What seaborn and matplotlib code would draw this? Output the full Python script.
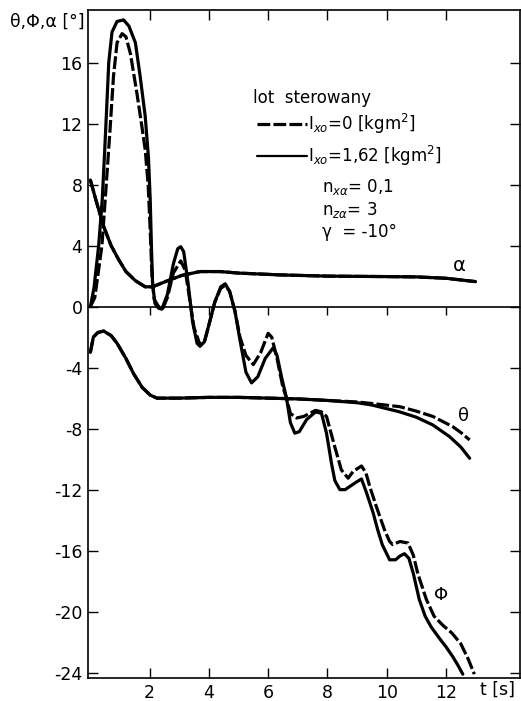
import matplotlib
matplotlib.use("Agg")
import matplotlib.pyplot as plt
import seaborn as sns
import numpy as np

# ---- data ----
# Phi, I_xo = 1.62 (solid)
t_phi_s = [0, 0.12, 0.28, 0.4, 0.48, 0.55, 0.62, 0.73, 0.9, 1.12, 1.3, 1.52, 1.68, 1.85, 1.96,
           2.02, 2.06, 2.1, 2.18, 2.3, 2.41, 2.6, 2.8, 2.95, 3.05, 3.15, 3.3, 3.45, 3.6, 3.7,
           3.85, 4.0, 4.2, 4.4, 4.55, 4.7, 4.88, 5.05, 5.25, 5.44, 5.65, 5.9, 6.17, 6.3, 6.45,
           6.62, 6.75, 6.9, 7.05, 7.3, 7.6, 7.8, 7.97, 8.14, 8.25, 8.42, 8.6, 8.75, 8.98, 9.15,
           9.32, 9.54, 9.7, 9.85, 10.1, 10.3, 10.45, 10.6, 10.75, 10.9, 11.1, 11.3, 11.5, 11.8,
           12.0, 12.23, 12.4, 12.57]
phi_s = [0, 1.2, 4.0, 7.0, 10.1, 13.0, 16.0, 18.0, 18.7, 18.8, 18.4, 17.3, 15.1, 12.5, 9.8,
         7.0, 4.0, 1.5, 0.2, -0.1, -0.17, 0.8, 2.8, 3.8, 3.93, 3.6, 1.5, -1.0, -2.4, -2.6,
         -2.3, -1.2, 0.3, 1.3, 1.5, 1.0, -0.3, -2.2, -4.3, -5.0, -4.6, -3.4, -2.7, -3.2, -4.6,
         -6.0, -7.6, -8.3, -8.2, -7.4, -6.9, -7.0, -8.3, -10.3, -11.4, -12.0, -12.0, -11.8, -11.5, -11.3,
         -12.2, -13.5, -14.65, -15.6, -16.6, -16.6, -16.35, -16.2, -16.5, -17.5, -19.2, -20.3, -21.0, -21.8,
         -22.3, -22.95, -23.5, -24.1]

# Phi, I_xo = 0 (dashed)
t_phi_d = [0, 0.15, 0.39, 0.5, 0.6, 0.67, 0.78, 0.9, 1.07, 1.2, 1.35, 1.57, 1.74, 1.85, 1.95,
           2.02, 2.08, 2.15, 2.3, 2.45, 2.6, 2.8, 3.05, 3.2, 3.35, 3.5, 3.7, 3.85, 4.0, 4.2,
           4.4, 4.55, 4.7, 4.88, 5.05, 5.25, 5.5, 5.75, 6.0, 6.12, 6.3, 6.5, 6.62, 6.75, 6.96,
           7.2, 7.6, 7.8, 7.97, 8.25, 8.47, 8.7, 8.87, 9.15, 9.3, 9.43, 9.65, 9.93, 10.1, 10.2,
           10.45, 10.72, 10.9, 11.05, 11.34, 11.6, 11.9, 12.2, 12.5, 12.75, 12.96]
phi_d = [0, 0.6, 4.0, 7.0, 9.8, 11.8, 15.1, 17.3, 17.9, 17.7, 16.6, 14.0, 11.8, 10.3, 8.0,
         5.0, 2.0, 0.5, 0.0, -0.1, 0.6, 2.2, 3.0, 2.4, 0.5, -1.4, -2.5, -2.3, -1.2, 0.3,
         1.2, 1.4, 1.0, -0.3, -2.0, -3.2, -3.8, -3.0, -1.75, -2.0, -3.4, -5.3, -6.0, -7.0, -7.3,
         -7.2, -6.8, -6.9, -7.2, -9.2, -10.7, -11.25, -10.8, -10.45, -10.9, -11.8, -13.1, -14.65, -15.4, -15.6,
         -15.4, -15.5, -16.3, -17.5, -19.2, -20.3, -20.9, -21.4, -22.1, -23.1, -24.1]

# Theta
t_th_s = [0, 0.1, 0.25, 0.45, 0.7, 0.9, 1.2, 1.46, 1.75, 2.02, 2.25, 3, 4, 5, 6, 7, 8, 9,
          9.5, 10.44, 11.0, 11.56, 12.12, 12.5, 12.8]
th_s = [-3.0, -2.0, -1.7, -1.6, -1.9, -2.4, -3.4, -4.4, -5.3, -5.8, -6.0, -6.0, -5.95, -5.95,
        -6.0, -6.05, -6.15, -6.3, -6.45, -6.9, -7.25, -7.76, -8.52, -9.2, -9.94]
t_th_d = [0, 0.1, 0.25, 0.45, 0.7, 0.9, 1.2, 1.46, 1.75, 2.02, 2.25, 3, 4, 5, 6, 7, 8, 9,
          9.5, 10.44, 11.0, 11.56, 12.23, 12.5, 12.8]
th_d = [-3.0, -2.0, -1.7, -1.6, -1.9, -2.4, -3.4, -4.4, -5.3, -5.8, -6.0, -6.0, -5.95, -5.95,
        -6.0, -6.05, -6.15, -6.25, -6.35, -6.56, -6.85, -7.2, -7.87, -8.25, -8.74]

# Alpha
t_al = [0, 0.2, 0.45, 0.7, 0.95, 1.2, 1.52, 1.85, 2.1, 2.53, 3.09, 3.7, 4.38, 5, 6.4, 7, 8,
        10, 11, 12, 12.5, 13]
al_s = [8.3, 6.9, 5.25, 4.0, 3.1, 2.3, 1.7, 1.3, 1.3, 1.64, 2.05, 2.3, 2.3, 2.2, 2.08, 2.05,
        2.0, 1.97, 1.95, 1.86, 1.75, 1.64]
al_d = [8.3, 6.9, 5.25, 4.0, 3.1, 2.3, 1.7, 1.3, 1.3, 1.64, 2.05, 2.3, 2.3, 2.2, 2.08, 2.05,
        2.0, 1.97, 1.95, 1.86, 1.75, 1.64]

yticks = [16, 12, 8, 4, 0, -4, -8, -12, -16, -20, -24]
xticks = [2, 4, 6, 8, 10, 12]

# ---- plot ----
sns.set_theme(style="ticks")
plt.rcParams['font.family'] = ['DejaVu Sans']
plt.rcParams['mathtext.fontset'] = 'dejavusans'
plt.rcParams['text.color'] = 'black'
plt.rcParams['axes.labelcolor'] = 'black'
plt.rcParams['xtick.color'] = 'black'
plt.rcParams['ytick.color'] = 'black'
plt.rcParams['axes.edgecolor'] = 'black'

fig = plt.figure(figsize=(5.21, 7.01), dpi=100)
ax = fig.add_axes([88/521, 1-678/701, 432/521, 668/701])

LW = 2.3
DASH = (0, (4.0, 1.0))
for t, y in [(t_phi_s, phi_s), (t_th_s, th_s), (t_al, al_s)]:
    sns.lineplot(x=t, y=y, ax=ax, color='black', linewidth=LW, sort=False, estimator=None)
for t, y in [(t_phi_d, phi_d), (t_th_d, th_d), (t_al, al_d)]:
    sns.lineplot(x=t, y=y, ax=ax, color='black', linewidth=LW, sort=False, estimator=None,
                 linestyle=DASH)

ax.axhline(0, color='black', lw=1.2)
ax.plot(xticks, [0]*len(xticks), linestyle='none', marker=3, markersize=6, color='black', mew=1.0)

ax.set_xlim(-0.08, 14.5)
ax.set_ylim(-24.35, 19.45)
ax.set_xticks(xticks)
ax.set_xticklabels([str(v) for v in xticks])
ax.set_yticks(yticks)
ax.set_yticklabels([str(v) for v in yticks])
ax.tick_params(direction='in', length=7, width=1.0, top=True, right=True,
               labelsize=12.5, colors='black')
ax.tick_params(axis='y', pad=4)
ax.tick_params(axis='x', pad=4)
for s in ax.spines.values():
    s.set_color('black')
    s.set_linewidth(1.2)
ax.set_xlabel('')
ax.set_ylabel('')

# curve labels
ax.text(12.45, 2.7, 'α', fontsize=14, ha='center', va='center', color='black')
ax.text(12.6, -7.2, 'θ', fontsize=13, ha='center', va='center', color='black')
ax.text(11.85, -18.9, 'Φ', fontsize=13, ha='center', va='center', color='black')

# legend block
tr = ax.transAxes
fs = 12
ax.text(0.382, 0.868, 'lot  sterowany', transform=tr, fontsize=fs, ha='left', va='center')
ax.plot([0.391, 0.507], [0.829, 0.829], transform=tr, color='black', lw=LW, linestyle=DASH)
ax.text(0.509, 0.829, r'I$_{xo}$=0 [kgm$^2$]', transform=tr, fontsize=fs, ha='left', va='center')
ax.plot([0.391, 0.507], [0.781, 0.781], transform=tr, color='black', lw=1.6)
ax.text(0.509, 0.781, r'I$_{xo}$=1,62 [kgm$^2$]', transform=tr, fontsize=fs, ha='left', va='center')
ax.text(0.542, 0.735, r'n$_{x\alpha}$= 0,1', transform=tr, fontsize=fs, ha='left', va='center')
ax.text(0.542, 0.700, r'n$_{z\alpha}$= 3', transform=tr, fontsize=fs, ha='left', va='center')
ax.text(0.542, 0.668, 'γ  = -10°', transform=tr, fontsize=fs, ha='left', va='center')

fig.text(47/521, 1-22/701, 'θ,Φ,α [°]', fontsize=12.5, ha='center', va='center', color='black')
fig.text(497/521, 1-690/701, 't [s]', fontsize=12.5, ha='center', va='center', color='black')

fig.savefig('out.png', dpi=100, facecolor='white')
